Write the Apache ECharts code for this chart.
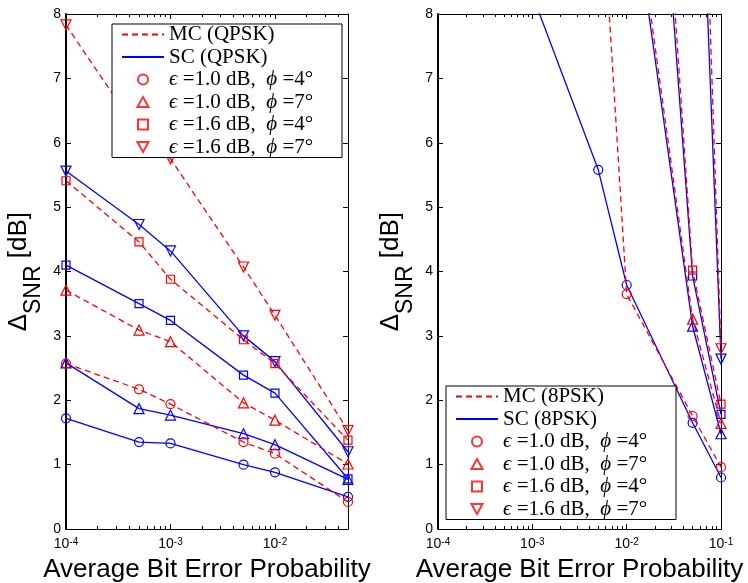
<!DOCTYPE html>
<html>
<head>
<meta charset="utf-8">
<script src="https://cdn.jsdelivr.net/npm/echarts@6/dist/echarts.min.js"></script>
<style>
	html, body { margin: 0; padding: 0; background: #fff; }
	#main { width: 748px; height: 583px; }
</style>
</head>
<body>
<div id="main"></div>
<script>
// 左图 QPSK：横坐标（误码率）
const xQpsk = [1e-4, 5e-4, 1e-3, 5e-3, 1e-2, 5e-2];
// MC 曲线（红色虚线）
const mcQpsk10d4 = [2.57, 2.17, 1.94, 1.35, 1.17, 0.42];
const mcQpsk10d7 = [3.71, 3.09, 2.91, 1.96, 1.69, 1.01];
const mcQpsk16d4 = [5.41, 4.46, 3.88, 2.94, 2.57, 1.38];
const mcQpsk16d7 = [7.83, 6.15, 5.75, 4.07, 3.32, 1.53];
// SC 曲线（蓝色实线）
const scQpsk10d4 = [1.72, 1.35, 1.33, 1.00, 0.88, 0.50];
const scQpsk10d7 = [2.58, 1.87, 1.77, 1.48, 1.31, 0.77];
const scQpsk16d4 = [4.10, 3.50, 3.24, 2.39, 2.11, 0.78];
const scQpsk16d7 = [5.56, 4.73, 4.32, 3.00, 2.60, 1.20];

// 右图 8PSK：横坐标，null 表示没有该点（大于 8 的点在图外）
const x8psk = [1e-3, 5e-3, 1e-2, 5e-2, 1e-1];
const mc8psk10d4 = [null, 10.75, 3.65, 1.755, 0.96];
const mc8psk10d7 = [null, null, 10.7, 3.26, 1.64];
const mc8psk16d4 = [null, null, 19.1, 4.02, 1.94];
const mc8psk16d7 = [null, null, null, 16.0, 2.80];
const sc8psk10d4 = [8.3, 5.58, 3.79, 1.65, 0.80];
const sc8psk10d7 = [null, null, 10.45, 3.15, 1.48];
const sc8psk16d4 = [null, null, 17.8, 3.93, 1.78];
const sc8psk16d7 = [null, null, null, 14.0, 2.64];

// 坐标轴刻度
const yTicks = [0, 1, 2, 3, 4, 5, 6, 7, 8];
const xRangeQpsk = [1e-4, 5e-2];
const xRange8psk = [1e-4, 1e-1];
const xMajor = [1e-4, 1e-3, 1e-2, 1e-1];
const xMinorMul = [2, 3, 4, 5, 6, 7, 8, 9];

// 图例文字
const markerNames = ['e10p4', 'e10p7', 'e16p4', 'e16p7'];
const markerTexts = {
	e10p4: ['1.0', '4'],
	e10p7: ['1.0', '7'],
	e16p4: ['1.6', '4'],
	e16p7: ['1.6', '7'],
};

const RED = '#ff0000',
	BLUE = '#0000ff';
const symbols = {
	e10p4: 'circle',
	e10p7: 'path://M5,0L10,9L0,9Z',
	e16p4: 'path://M0,0L10,0L10,10L0,10Z',
	e16p7: 'path://M0,0L10,0L5,9Z',
};
const symbolSizes = { e10p4: 9, e10p7: 10, e16p4: 8, e16p7: 10 };

const chart = echarts.init(document.getElementById('main'));

// 对数轴的次刻度 2..9
function minorTicks(range) {
	const out = [];
	for (let e = -4; e <= -1; e++) {
		xMinorMul.forEach(function(m) {
			const v = m * Math.pow(10, e - 1);
			if (v > range[0] * 1.0001 && v < range[1] * 0.9999) out.push(v);
		});
	}
	return out;
}

function pairs(xs, ys) {
	const out = [];
	for (let i = 0; i < xs.length; i++) {
		if (ys[i] !== null) out.push([xs[i], ys[i]]);
	}
	return out;
}

// 一个子图的 x 轴（上下 主/次 刻度）
function buildXAxes(g, range, majors) {
	const base = {
		gridIndex: g,
		type: 'log',
		logBase: 10,
		min: range[0],
		max: range[1],
		splitLine: { show: false },
		axisLine: { show: false },
		axisLabel: { show: false },
	};
	const majorIn = majors.filter(function(v) { return v >= range[0] && v <= range[1]; });
	const minors = minorTicks(range);
	return [
		Object.assign({}, base, {
			position: 'bottom',
			axisLine: { show: true, lineStyle: { color: '#000', width: 1 } },
			axisTick: { show: true, inside: true, length: 5, customValues: majorIn, lineStyle: { color: '#000' } },
			axisLabel: {
				show: true,
				customValues: majorIn,
				margin: 8,
				formatter: function(v) {
					return '{b|10}{s|' + Math.round(Math.log10(v)) + '}';
				},
				rich: {
					b: { fontFamily: 'Liberation Sans', fontSize: 14, color: '#000', lineHeight: 14, verticalAlign: 'bottom' },
					s: { fontFamily: 'Liberation Sans', fontSize: 10, color: '#000', lineHeight: 10, verticalAlign: 'top' },
				},
			},
			name: 'Average Bit Error Probability',
			nameLocation: 'middle',
			nameGap: 28,
			nameTextStyle: { fontFamily: 'Liberation Sans', fontSize: 26, color: '#000' },
		}),
		Object.assign({}, base, {
			position: 'bottom',
			axisTick: { show: true, inside: true, length: 3, customValues: minors, lineStyle: { color: '#000' } },
		}),
		Object.assign({}, base, {
			position: 'top',
			axisLine: { show: true, lineStyle: { color: '#000', width: 1 } },
			axisTick: { show: true, inside: true, length: 5, customValues: majorIn, lineStyle: { color: '#000' } },
		}),
		Object.assign({}, base, {
			position: 'top',
			axisTick: { show: true, inside: true, length: 3, customValues: minors, lineStyle: { color: '#000' } },
		}),
	];
}

// 一个子图的 y 轴（左边带标签，右边只有刻度）
function buildYAxes(g) {
	return [{
		gridIndex: g,
		type: 'value',
		position: 'left',
		min: 0,
		max: 8,
		interval: 1,
		splitLine: { show: false },
		axisLine: { show: true, lineStyle: { color: '#000', width: 2 } },
		axisTick: { show: true, inside: true, length: 5, lineStyle: { color: '#000' } },
		axisLabel: {
			margin: 5,
			fontFamily: 'Liberation Sans',
			fontSize: 14,
			color: '#000',
			formatter: function(v) { return yTicks.indexOf(v) >= 0 ? String(v) : ''; },
		},
		name: '{d|Δ}{s|SNR}{d| [dB]}{h| }',
		nameLocation: 'middle',
		nameRotate: 90,
		nameGap: 21,
		nameTextStyle: {
			rich: {
				d: { fontFamily: 'Liberation Sans', fontSize: 26, color: '#000', lineHeight: 27, verticalAlign: 'top' },
				s: { fontFamily: 'Liberation Sans', fontSize: 23, color: '#000', lineHeight: 23, verticalAlign: 'bottom' },
				h: { fontSize: 1, lineHeight: 39 },
			},
		},
	}, {
		gridIndex: g,
		type: 'value',
		position: 'right',
		min: 0,
		max: 8,
		interval: 1,
		splitLine: { show: false },
		axisLine: { show: true, lineStyle: { color: '#000', width: 1 } },
		axisTick: { show: true, inside: true, length: 5, lineStyle: { color: '#000' } },
		axisLabel: { show: false },
	}];
}

// 一条曲线
function curve(g, key, xs, ys, mc) {
	const color = mc ? RED : BLUE;
	return {
		name: (mc ? 'mc' : 'sc') + g + key,
		type: 'line',
		xAxisIndex: g * 4,
		yAxisIndex: g * 2,
		data: pairs(xs, ys),
		symbol: symbols[key],
		symbolSize: symbolSizes[key],
		showAllSymbol: true,
		clip: true,
		lineStyle: { color: color, width: 1.3, type: mc ? [6, 4] : 'solid' },
		itemStyle: { color: 'rgba(0,0,0,0)', borderColor: color, borderWidth: 1.2 },
		emphasis: { disabled: true },
		z: mc ? 3 : 2,
	};
}

// 图例用的空系列
function legendSeries() {
	const list = [
		{ name: 'MC (QPSK)', color: RED, dash: true },
		{ name: 'SC (QPSK)', color: BLUE, dash: false },
		{ name: 'MC (8PSK)', color: RED, dash: true },
		{ name: 'SC (8PSK)', color: BLUE, dash: false },
	].map(function(d) {
		return {
			name: d.name,
			type: 'line',
			xAxisIndex: 0,
			yAxisIndex: 0,
			data: [],
			symbol: 'none',
			lineStyle: { color: d.color, width: 1.3, type: d.dash ? [6, 4] : 'solid' },
			itemStyle: { color: d.color },
		};
	});
	markerNames.forEach(function(key) {
		list.push({
			name: key,
			type: 'scatter',
			xAxisIndex: 0,
			yAxisIndex: 0,
			data: [],
			symbol: symbols[key],
			symbolSize: symbolSizes[key],
			itemStyle: { color: 'rgba(0,0,0,0)', borderColor: RED, borderWidth: 1.2 },
		});
	});
	return list;
}

function legendText(name) {
	const t = markerTexts[name];
	if (!t) return name;
	return '{i|ϵ} =' + t[0] + ' dB,  {i|ϕ} =' + t[1] + '°';
}

function buildLegend(left, top, tag) {
	return {
		orient: 'vertical',
		left: left,
		top: top,
		data: [
			{ name: 'MC (' + tag + ')', itemStyle: { opacity: 0 } },
			{ name: 'SC (' + tag + ')', itemStyle: { opacity: 0 } },
		].concat(markerNames),
		itemWidth: 42,
		itemHeight: 10,
		itemGap: 1.5,
		padding: [0, 8, 0, 9],
		borderColor: '#000',
		borderWidth: 1,
		backgroundColor: '#fff',
		selectedMode: false,
		formatter: legendText,
		textStyle: {
			fontFamily: 'Liberation Serif',
			fontSize: 21,
			color: '#000',
			lineHeight: 18.5,
			width: 165,
			rich: {
				i: { fontFamily: 'Liberation Serif', fontStyle: 'italic', fontSize: 21, lineHeight: 18.5, color: '#000' },
			},
		},
	};
}

const series = [];
const qpsk = { e10p4: [mcQpsk10d4, scQpsk10d4], e10p7: [mcQpsk10d7, scQpsk10d7], e16p4: [mcQpsk16d4, scQpsk16d4], e16p7: [mcQpsk16d7, scQpsk16d7] };
const psk8 = { e10p4: [mc8psk10d4, sc8psk10d4], e10p7: [mc8psk10d7, sc8psk10d7], e16p4: [mc8psk16d4, sc8psk16d4], e16p7: [mc8psk16d7, sc8psk16d7] };
markerNames.forEach(function(key) {
	series.push(curve(0, key, xQpsk, qpsk[key][1], false));
	series.push(curve(0, key, xQpsk, qpsk[key][0], true));
	series.push(curve(1, key, x8psk, psk8[key][1], false));
	series.push(curve(1, key, x8psk, psk8[key][0], true));
});

const option = {
	animation: false,
	backgroundColor: '#fff',
	grid: [
		{ left: 66, top: 14, width: 282, height: 515, containLabel: false, outerBoundsMode: 'none' },
		{ left: 438, top: 14, width: 283, height: 515, containLabel: false, outerBoundsMode: 'none' },
	],
	xAxis: buildXAxes(0, xRangeQpsk, xMajor).concat(buildXAxes(1, xRange8psk, xMajor)),
	yAxis: buildYAxes(0).concat(buildYAxes(1)),
	legend: [buildLegend(112, 24, 'QPSK'), buildLegend(446, 386, '8PSK')],
	series: series.concat(legendSeries()),
};

chart.setOption(option);
</script>
</body>
</html>
